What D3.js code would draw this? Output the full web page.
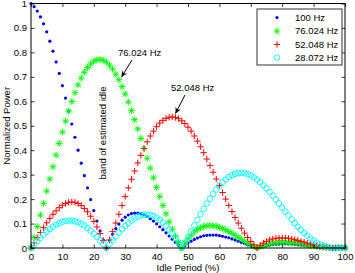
<!DOCTYPE html>
<html lang="en">
  <head>
    <meta charset="utf-8">
    <title>Normalized Power</title>
    <script src="https://d3js.org/d3.v7.min.js"></script>
    <style>
      body { margin: 0; background: #fff; }
      text { font-family: "Liberation Sans", Arial, sans-serif; font-size: 9.5px; fill: #000; }
    </style>
  </head>
  <body>
  <div id="chart"></div>
  <script>
    var idle = d3.range(0, 101);

    var p100 = [1.000,0.987,0.969,0.945,0.917,0.884,0.846,0.805,0.761,0.714,
      0.664,0.613,0.560,0.507,0.453,0.400,0.347,0.296,0.246,0.198,
      0.153,0.110,0.070,0.033,0.000,0.030,0.056,0.079,0.098,0.114,
      0.126,0.135,0.141,0.143,0.143,0.141,0.136,0.129,0.120,0.110,
      0.099,0.087,0.075,0.062,0.049,0.036,0.023,0.011,0.000,0.010,
      0.020,0.028,0.035,0.041,0.046,0.050,0.052,0.053,0.053,0.053,
      0.051,0.048,0.045,0.042,0.037,0.033,0.028,0.023,0.018,0.013,
      0.009,0.004,0.000,0.004,0.007,0.010,0.012,0.014,0.015,0.016,
      0.017,0.017,0.016,0.016,0.015,0.013,0.012,0.011,0.009,0.008,
      0.006,0.005,0.003,0.002,0.001,0.001,0.000,0.000,0.000,0.000,0.000];

    var p76 = [0.000,0.043,0.088,0.135,0.183,0.233,0.282,0.332,0.380,0.428,
      0.474,0.519,0.560,0.599,0.635,0.667,0.695,0.719,0.738,0.753,
      0.764,0.770,0.771,0.768,0.760,0.748,0.732,0.711,0.688,0.660,
      0.630,0.597,0.562,0.525,0.487,0.448,0.407,0.367,0.327,0.287,
      0.248,0.210,0.174,0.140,0.107,0.077,0.049,0.023,0.000,0.020,
      0.038,0.053,0.066,0.075,0.083,0.088,0.091,0.092,0.091,0.089,
      0.085,0.080,0.074,0.067,0.060,0.052,0.044,0.036,0.028,0.020,
      0.013,0.006,0.000,0.006,0.010,0.014,0.018,0.020,0.022,0.023,
      0.024,0.024,0.023,0.022,0.020,0.019,0.017,0.015,0.012,0.010,
      0.008,0.006,0.005,0.003,0.002,0.001,0.000,0.000,0.001,0.000,0.000];

    var p52 = [0.000,0.021,0.042,0.063,0.083,0.103,0.121,0.138,0.152,0.165,
      0.175,0.182,0.187,0.188,0.187,0.182,0.174,0.162,0.148,0.130,
      0.109,0.086,0.059,0.031,0.000,0.033,0.067,0.102,0.138,0.174,
      0.210,0.246,0.281,0.315,0.348,0.379,0.407,0.434,0.458,0.478,
      0.496,0.511,0.522,0.530,0.535,0.536,0.534,0.529,0.520,0.509,
      0.494,0.478,0.458,0.437,0.414,0.390,0.364,0.337,0.310,0.282,
      0.255,0.227,0.200,0.174,0.149,0.125,0.102,0.081,0.061,0.043,
      0.027,0.013,0.000,0.011,0.020,0.027,0.033,0.037,0.040,0.041,
      0.041,0.041,0.039,0.037,0.034,0.031,0.027,0.024,0.020,0.016,
      0.013,0.010,0.007,0.005,0.003,0.001,0.000,0.001,0.001,0.001,0.000];

    var p28 = [0.000,0.014,0.028,0.041,0.054,0.066,0.077,0.087,0.095,0.102,
      0.107,0.111,0.112,0.112,0.109,0.105,0.099,0.092,0.082,0.071,
      0.059,0.045,0.031,0.016,0.000,0.016,0.032,0.047,0.063,0.077,
      0.090,0.102,0.113,0.121,0.128,0.133,0.136,0.136,0.135,0.131,
      0.124,0.115,0.104,0.091,0.076,0.060,0.041,0.021,0.000,0.022,
      0.045,0.068,0.092,0.115,0.138,0.160,0.182,0.202,0.221,0.239,
      0.255,0.269,0.280,0.290,0.298,0.303,0.306,0.307,0.306,0.302,
      0.297,0.289,0.280,0.269,0.257,0.244,0.229,0.214,0.198,0.182,
      0.165,0.149,0.133,0.117,0.102,0.087,0.074,0.061,0.050,0.039,
      0.030,0.022,0.015,0.010,0.005,0.002,0.000,0.001,0.002,0.001,0.000];

    var seriesNames = ["100 Hz", "76.024 Hz", "52.048 Hz", "28.072 Hz"];
    var xTicks = [0, 10, 20, 30, 40, 50, 60, 70, 80, 90, 100];
    var yTicks = [0, 0.1, 0.2, 0.3, 0.4, 0.5, 0.6, 0.7, 0.8, 0.9, 1];

    var w = 355, h = 273;
    var padL = 31, padR = 345, padT = 3.5, padB = 248;

    var xScale = d3.scaleLinear().domain([0, 100]).range([padL, padR]);
    var yScale = d3.scaleLinear().domain([0, 1]).range([padB, padT]);

    var svg = d3.select("#chart").append("svg")
      .attr("width", w)
      .attr("height", h);

    svg.append("rect").attr("width", w).attr("height", h).attr("fill", "#fff");

    // marker shapes (matlab style)
    var starPath = "M-3.3,0L3.3,0M0,-3.3L0,3.3M-2.4,-2.4L2.4,2.4M-2.4,2.4L2.4,-2.4";
    var plusPath = "M-3.2,0L3.2,0M0,-3.2L0,3.2";

    function drawDots(g, vals) {
      g.selectAll("circle").data(vals).enter().append("circle")
        .attr("cx", (d, i) => xScale(idle[i]))
        .attr("cy", d => yScale(d))
        .attr("r", 1.6)
        .attr("fill", "#0000ff");
    }
    function drawPaths(g, vals, path, color) {
      g.selectAll("path").data(vals).enter().append("path")
        .attr("d", path)
        .attr("transform", (d, i) => "translate(" + xScale(idle[i]) + "," + yScale(d) + ")")
        .attr("stroke", color)
        .attr("stroke-width", 1)
        .attr("fill", "none");
    }
    function drawCircles(g, vals) {
      g.selectAll("circle").data(vals).enter().append("circle")
        .attr("cx", (d, i) => xScale(idle[i]))
        .attr("cy", d => yScale(d))
        .attr("r", 2.8)
        .attr("stroke", "#00ffff")
        .attr("stroke-width", 0.9)
        .attr("fill", "none");
    }

    drawDots(svg.append("g"), p100);
    drawPaths(svg.append("g"), p76, starPath, "#00ff00");
    drawPaths(svg.append("g"), p52, plusPath, "#ff0000");
    drawCircles(svg.append("g"), p28);

    // axes, ticks inside on all four sides
    var xAxis = d3.axisBottom(xScale).tickValues(xTicks).tickSizeInner(-3.5).tickSizeOuter(0).tickPadding(5);
    var yAxis = d3.axisLeft(yScale).tickValues(yTicks).tickSizeInner(-3.5).tickSizeOuter(0).tickPadding(4)
      .tickFormat(d3.format("~g"));

    svg.append("g").attr("transform", "translate(0," + padB + ")").call(xAxis);
    svg.append("g").attr("transform", "translate(" + padL + ",0)").call(yAxis);
    svg.append("g").attr("transform", "translate(0," + padT + ")")
      .call(d3.axisTop(xScale).tickValues(xTicks).tickSizeInner(-3.5).tickSizeOuter(0).tickFormat(""));
    svg.append("g").attr("transform", "translate(" + padR + ",0)")
      .call(d3.axisRight(yScale).tickValues(yTicks).tickSizeInner(-3.5).tickSizeOuter(0).tickFormat(""));

    svg.selectAll(".domain").remove();
    svg.selectAll(".tick line").attr("stroke", "#000").attr("stroke-width", 0.8);
    svg.selectAll(".tick text").style("font-size", "9.5px").style("font-family", "'Liberation Sans', Arial, sans-serif");

    svg.append("rect")
      .attr("x", padL).attr("y", padT)
      .attr("width", padR - padL).attr("height", padB - padT)
      .attr("fill", "none")
      .attr("stroke", "#000")
      .attr("stroke-width", 1);

    // axis labels
    svg.append("text")
      .attr("text-anchor", "middle")
      .attr("x", (padL + padR) / 2)
      .attr("y", 271)
      .text("Idle Period (%)");

    svg.append("text")
      .attr("text-anchor", "middle")
      .attr("transform", "translate(10," + ((padT + padB) / 2) + ") rotate(-90)")
      .text("Normalized Power");

    // annotations
    var defs = svg.append("defs");
    defs.append("marker")
      .attr("id", "head")
      .attr("viewBox", "0 0 10 10")
      .attr("refX", 10).attr("refY", 5)
      .attr("markerWidth", 7).attr("markerHeight", 6)
      .attr("markerUnits", "userSpaceOnUse")
      .attr("orient", "auto")
      .append("path").attr("d", "M0,0L10,5L0,10L3,5Z").attr("fill", "#000");

    svg.append("text").attr("x", 118).attr("y", 56).text("76.024 Hz");
    svg.append("line")
      .attr("x1", 132).attr("y1", 60).attr("x2", 121.5).attr("y2", 77)
      .attr("stroke", "#000").attr("stroke-width", 1)
      .attr("marker-end", "url(#head)");

    svg.append("text").attr("x", 171).attr("y", 91).text("52.048 Hz");
    svg.append("line")
      .attr("x1", 185).attr("y1", 95).attr("x2", 175.5).attr("y2", 113.5)
      .attr("stroke", "#000").attr("stroke-width", 1)
      .attr("marker-end", "url(#head)");

    svg.append("text")
      .attr("text-anchor", "middle")
      .attr("transform", "translate(105.5,133) rotate(-90)")
      .text("band of estimated idle");

    // legend
    var lg = svg.append("g");
    lg.append("rect")
      .attr("x", 257).attr("y", 9).attr("width", 85).attr("height", 56)
      .attr("fill", "#fff").attr("stroke", "#333").attr("stroke-width", 1);

    var rowY = [17.5, 31, 44.5, 57.5];
    seriesNames.forEach(function(name, i) {
      var yy = rowY[i];
      if (i == 0) {
        lg.append("circle").attr("cx", 277).attr("cy", yy).attr("r", 1.6).attr("fill", "#0000ff");
      } else if (i == 1) {
        lg.append("path").attr("d", starPath).attr("transform", "translate(277," + yy + ")")
          .attr("stroke", "#00ff00").attr("fill", "none");
      } else if (i == 2) {
        lg.append("path").attr("d", plusPath).attr("transform", "translate(277," + yy + ")")
          .attr("stroke", "#ff0000").attr("fill", "none");
      } else {
        lg.append("circle").attr("cx", 277).attr("cy", yy).attr("r", 2.8)
          .attr("stroke", "#00ffff").attr("stroke-width", 0.9).attr("fill", "none");
      }
      lg.append("text").attr("x", 295).attr("y", yy + 3.4).text(name);
    });
  </script>
  </body>
</html>
